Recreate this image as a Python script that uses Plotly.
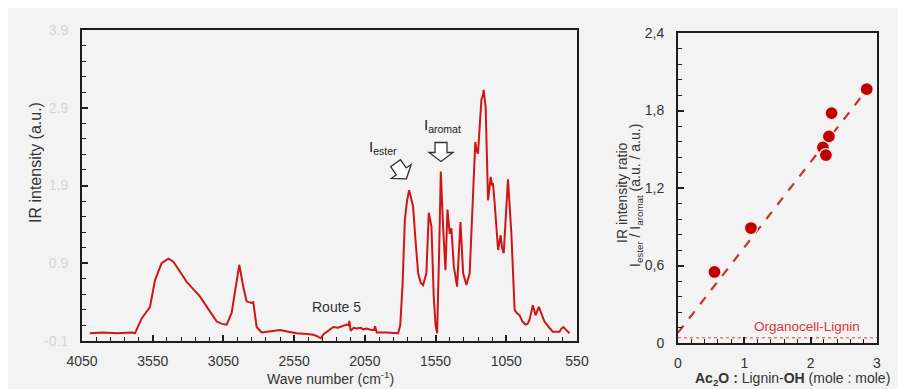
import math
import plotly.graph_objects as go

# ---------------- data ----------------
wavenumber = [3995, 3900, 3800, 3700, 3675, 3628, 3600, 3569, 3534, 3487, 3439, 3404, 3360, 3310,
              3260, 3215, 3160, 3097, 3060, 3027, 2992, 2957, 2938, 2910, 2886, 2870, 2851, 2839,
              2815, 2780, 2720, 2650, 2590, 2532, 2460, 2414, 2385, 2362, 2340, 2320, 2300, 2273,
              2240, 2210, 2178, 2165, 2160, 2150, 2130, 2108, 2080, 2060, 2037, 2000, 1985, 1978,
              1966, 1900, 1815, 1800, 1784, 1767, 1752, 1737, 1709, 1690, 1673, 1655, 1638, 1615,
              1598, 1579, 1563, 1550, 1539, 1525, 1513, 1497, 1480, 1466, 1458, 1450, 1438, 1421,
              1398, 1374, 1355, 1332, 1309, 1285, 1269, 1260, 1250, 1226, 1215, 1210, 1196, 1179,
              1160, 1150, 1144, 1132, 1108, 1090, 1080, 1068, 1038, 1014, 991, 975, 956, 935, 914,
              900, 886, 862, 850, 843, 820, 780, 750, 721, 690, 674, 660, 646, 625, 603]
intensity = [0.00, 0.01, 0.00, 0.01, 0.00, 0.19, 0.26, 0.34, 0.68, 0.90, 0.96, 0.92, 0.80, 0.66,
             0.56, 0.47, 0.32, 0.15, 0.12, 0.11, 0.26, 0.64, 0.88, 0.60, 0.41, 0.40, 0.39, 0.40,
             0.08, 0.01, 0.02, 0.04, 0.02, 0.00, -0.01, -0.02, -0.04, -0.065, -0.01, 0.02, 0.05, 0.08,
             0.07, 0.09, 0.11, 0.10, 0.16, 0.03, 0.07, 0.06, 0.07, 0.05, 0.06, 0.04, 0.04, 0.09,
             0.01, 0.01, 0.00, 0.10, 0.60, 1.46, 1.70, 1.84, 1.63, 1.15, 0.77, 0.65, 0.62, 0.77,
             1.55, 1.37, 0.47, 0.10, 0.00, 1.03, 2.08, 1.37, 0.81, 1.59, 1.45, 1.28, 1.35, 0.86,
             0.60, 1.43, 0.77, 0.62, 0.77, 1.88, 2.46, 2.35, 2.31, 3.00, 3.06, 3.13, 2.91, 1.71,
             2.01, 1.90, 1.93, 1.67, 1.07, 1.26, 1.10, 1.03, 1.98, 1.28, 0.30, 0.26, 0.23, 0.15, 0.11,
             0.12, 0.17, 0.36, 0.25, 0.23, 0.34, 0.15, 0.08, 0.02, 0.02, 0.02, 0.06, 0.08, 0.04, 0.00]

left_xtick_vals = [4050, 3550, 3050, 2550, 2050, 1550, 1050, 550]
left_xtick_text = ["4050", "3550", "3050", "2550", "2050", "1550", "1050", "550"]
left_ytick_vals = [-0.1, 0.9, 1.9, 2.9, 3.9]
left_ytick_text = ["-0.1", "0.9", "1.9", "2.9", "3.9"]

ratio_x = [0.55, 1.10, 2.185, 2.23, 2.275, 2.315, 2.845]
ratio_y = [0.55, 0.89, 1.515, 1.455, 1.60, 1.78, 1.965]
trend_x = [0.0, 2.86]
trend_y = [0.08, 1.97]
lignin_x = [0.0, 3.0]
lignin_y = [0.04, 0.04]

right_xtick_vals = [0, 1, 2, 3]
right_xtick_text = ["0", "1", "2", "3"]
right_ytick_vals = [0, 0.6, 1.2, 1.8, 2.4]
right_ytick_text = ["0", "0,6", "1,2", "1,8", "2,4"]

# ---------------- layout helpers ----------------
# The page has an 8px body margin, so the figure is 8px smaller than the window
OFF = 8
W, H = 906 - OFF, 389 - OFF
def px(x):
    return (x - OFF) / W
def py(y):
    return 1 - (y - OFF) / H

FONT = "Liberation Sans, Arial, sans-serif"
RED = "#d01515"
DARKRED = "#c00000"
BG = "#f3f3f3"
INK = "#1e1e1e"

fig = go.Figure()

fig.add_trace(go.Scatter(x=wavenumber, y=intensity, mode="lines",
                         line=dict(color=RED, width=2), xaxis="x", yaxis="y",
                         showlegend=False, hoverinfo="skip"))

fig.add_trace(go.Scatter(x=lignin_x, y=lignin_y, mode="lines",
                         line=dict(color="#e04040", width=1, dash="dot"),
                         xaxis="x2", yaxis="y2", showlegend=False))
fig.add_trace(go.Scatter(x=trend_x, y=trend_y, mode="lines",
                         line=dict(color="#c0392b", width=2.2, dash="dash"),
                         xaxis="x2", yaxis="y2", showlegend=False))
fig.add_trace(go.Scatter(x=ratio_x, y=ratio_y, mode="markers",
                         marker=dict(color=DARKRED, size=13,
                                     line=dict(color="#fbe9e9", width=1.2)),
                         xaxis="x2", yaxis="y2", showlegend=False))


def axis(domain, rng, vals, text, minor_dtick, minor_tick0, font_color, standoff, anchor):
    return dict(
        domain=domain, range=rng, anchor=anchor,
        tickmode="array", tickvals=vals, ticktext=text,
        showgrid=False, zeroline=False, showline=True, linecolor=INK,
        linewidth=2, mirror=True, ticks="inside", tickcolor=INK,
        tickwidth=1.5, ticklen=6, automargin=False, fixedrange=True,
        ticklabelstandoff=standoff,
        tickfont=dict(family=FONT, size=14, color=font_color),
        minor=dict(tickmode="linear", dtick=minor_dtick, tick0=minor_tick0,
                   ticklen=4, ticks="inside", tickcolor=INK, tickwidth=1.2,
                   showgrid=False),
    )


fig.update_layout(
    template="none",
    width=W, height=H,
    margin=dict(l=0, r=0, t=0, b=0, autoexpand=False),
    paper_bgcolor=BG, plot_bgcolor=BG,
    showlegend=False,
    font=dict(family=FONT, size=14, color="#333333"),
    xaxis=axis([px(82), px(577)], [4050, 550], left_xtick_vals, left_xtick_text,
               100, 50, "#333333", 6, "y"),
    yaxis=axis([py(341), py(30)], [-0.1, 3.9], left_ytick_vals, left_ytick_text,
               0.2, -0.1, "#d6d6d6", 9, "x"),
    xaxis2=axis([px(678), px(877)], [0, 3], right_xtick_vals, right_xtick_text,
                0.2, 0, "#333333", 6, "y2"),
    yaxis2=axis([py(343), py(33)], [0, 2.4], right_ytick_vals, right_ytick_text,
                0.12, 0, "#333333", 9, "x2"),
)


# hollow block arrows
def block_arrow(cx, cy, L, hw, sw, hl, ang):
    a = math.radians(ang)
    d = (math.sin(a), math.cos(a))
    n = (math.cos(a), -math.sin(a))
    local = [(-L / 2, -sw / 2), (L / 2 - hl, -sw / 2), (L / 2 - hl, -hw / 2), (L / 2, 0),
             (L / 2 - hl, hw / 2), (L / 2 - hl, sw / 2), (-L / 2, sw / 2)]
    pts = []
    for u, v in local:
        sx = cx + u * d[0] + v * n[0]
        sy = cy + u * d[1] + v * n[1]
        pts.append((px(sx), py(sy)))
    return "M " + " L ".join(f"{x:.5f},{y:.5f}" for x, y in pts) + " Z"


for cx, cy, ang in [(441, 152, 0), (401, 171, 35)]:
    fig.add_shape(type="path", xref="paper", yref="paper",
                  path=block_arrow(cx, cy, 19, 24, 12, 9, ang),
                  fillcolor="white", line=dict(color="#333333", width=1.3))


def ann(text, x, y, size=14, color="#333333", angle=0):
    fig.add_annotation(text=text, x=px(x), y=py(y), xref="paper", yref="paper",
                       showarrow=False, textangle=angle, xanchor="center", yanchor="middle",
                       font=dict(family=FONT, size=size, color=color))


ann("Wave number (cm<sup>-1</sup>)", 330, 378)
ann("IR intensity (a.u.)", 35, 163, size=16, angle=-90)
ann("Route 5", 336, 307)
ann("I<sub>ester</sub>", 383, 147, size=15, color="#222222")
ann("I<sub>aromat</sub>", 442, 125, size=15, color="#222222")

ann("<b>Ac<sub>2</sub>O :</b> Lignin-<b>OH</b> (mole : mole)", 792, 379)
ann("IR intensity ratio", 622, 193, size=14, angle=-90)
ann("I<sub>ester</sub> / I<sub>aromat</sub> (a.u. / a.u.)", 636, 196, size=14, angle=-90)
ann("Organocell-Lignin", 807, 326, size=13.5, color="#e03535")

fig.write_html("out.html")
